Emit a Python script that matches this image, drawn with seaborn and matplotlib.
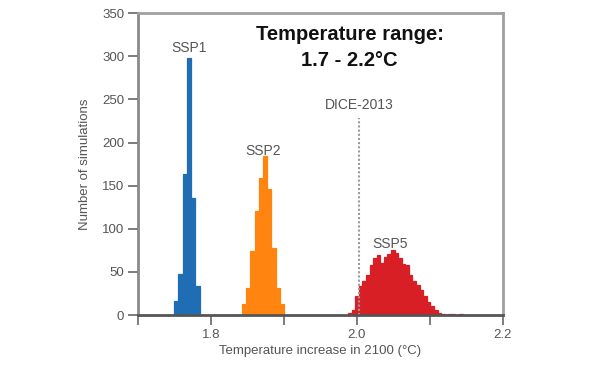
import numpy as np
import pandas as pd
import seaborn as sns
import matplotlib
matplotlib.use("Agg")
import matplotlib.pyplot as plt

# ---- data ----
ssp1_counts = [16, 48, 164, 298, 136, 34]
ssp1_start, ssp1_width = 1.7493, 0.0059

ssp2_counts = [13, 31, 74, 121, 159, 184, 146, 78, 31, 13]
ssp2_start, ssp2_width = 1.8425, 0.00575

ssp5_counts = [3, 6, 22, 34, 40, 47, 58, 66, 70, 61, 67, 71, 75, 72, 66,
               59, 58, 47, 39, 35, 29, 22, 15, 10, 6, 3, 1, 0, 1, 1, 0, 1]
ssp5_start, ssp5_width = 1.988, 0.0049

dice_x = 2.003
dice_top = 229

x_ticks = [1.7, 1.8, 1.9, 2.0, 2.1, 2.2]
x_ticklabels = ["", "1.8", "", "2.0", "", "2.2"]
y_ticks = [0, 50, 100, 150, 200, 250, 300, 350]

series = [
    ("SSP1", ssp1_counts, ssp1_start, ssp1_width, "#1f6db4"),
    ("SSP2", ssp2_counts, ssp2_start, ssp2_width, "#ff8410"),
    ("SSP5", ssp5_counts, ssp5_start, ssp5_width, "#d81f26"),
]

sns.set_theme(style="white")
plt.rcParams["font.family"] = ["Liberation Sans", "DejaVu Sans"]

fig = plt.figure(figsize=(6.0, 3.66), dpi=100)
ax = fig.add_axes([0.23, 0.139, 0.608, 0.825])

for name, counts, start, width, fc in series:
    n = len(counts)
    edges = [float(start + width * i) for i in range(n + 1)]
    centers = [(edges[i] + edges[i + 1]) / 2 for i in range(n)]
    df = pd.DataFrame({"x": centers, "w": counts})
    sns.histplot(data=df, x="x", weights="w", bins=edges, ax=ax,
                 color=fc, edgecolor=fc, linewidth=0.9, alpha=1.0)

ax.plot([dice_x, dice_x], [0, dice_top], color="#9a9a9a", lw=1.5,
        linestyle=(0, (1, 1)))

txt = "#555555"
ax.text(1.770, 310, "SSP1", ha="center", va="center", fontsize=10, color=txt)
ax.text(1.871, 190, "SSP2", ha="center", va="center", fontsize=10, color=txt)
ax.text(2.045, 83, "SSP5", ha="center", va="center", fontsize=10, color=txt)
ax.text(2.003, 243, "DICE-2013", ha="center", va="center", fontsize=10, color=txt)
ax.text(1.990, 325, "Temperature range:", ha="center", va="center",
        fontsize=14.5, fontweight="bold", color="#111111")
ax.text(1.990, 295, "1.7 - 2.2°C", ha="center", va="center",
        fontsize=14.5, fontweight="bold", color="#111111")

ax.set_xlim(1.7, 2.2)
ax.set_ylim(0, 350)
ax.set_xticks(x_ticks)
ax.set_xticklabels(x_ticklabels)
ax.set_yticks(y_ticks)
ax.set_xlabel("Temperature increase in 2100 (°C)", fontsize=9.5, color=txt, labelpad=3)
ax.set_ylabel("Number of simulations", fontsize=9.5, color=txt, labelpad=8)

ax.tick_params(axis="both", direction="out", length=7, width=1.2,
               colors="#666666", labelsize=9.5, labelcolor=txt, pad=3)
ax.tick_params(left=True, bottom=True)
ax.spines["left"].set_color("#8a8a8a")
ax.spines["bottom"].set_color("#555555")
for side in ["left", "bottom"]:
    ax.spines[side].set_linewidth(2)
for side in ["top", "right"]:
    ax.spines[side].set_color("#a0a0a0")
    ax.spines[side].set_linewidth(2)

fig.savefig("out.png", dpi=100)
